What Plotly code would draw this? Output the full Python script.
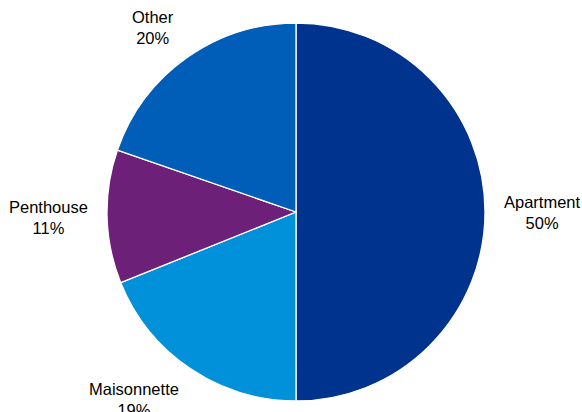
import math
import plotly.graph_objects as go

categories = ["Apartment", "Maisonnette", "Penthouse", "Other"]
values = [50.0, 18.9, 11.4, 19.7]
colors = ["#00338D", "#0091DA", "#6D2077", "#005EB8"]

W, H = 582, 412
cx, cy, r = 296, 212, 189  # pie centre / radius in pixels (from top-left)

fig = go.Figure(go.Pie(
    labels=categories, values=values, sort=False, direction="clockwise",
    rotation=0, textinfo="none", hoverinfo="label+percent",
    marker=dict(colors=colors, line=dict(color="white", width=1.3)),
    domain=dict(x=[(cx - r) / W, (cx + r) / W],
                y=[(H - cy - r) / H, (H - cy + r) / H]),
    showlegend=False,
))

total = sum(values)
cum = 0
gap_x, gap_y = 17, 11
for lab, v in zip(categories, values):
    mid = (cum + v / 2) / total * 2 * math.pi
    cum += v
    s, c = math.sin(mid), math.cos(mid)
    px = cx + (r + gap_x) * s
    py = cy - (r + gap_y) * c
    xa = "left" if s > 0.3 else ("right" if s < -0.3 else "center")
    ya = "bottom" if c > 0.3 else ("top" if c < -0.3 else "middle")
    pct = round(v / total * 100)
    fig.add_annotation(
        x=px / W, y=1 - py / H, xref="paper", yref="paper",
        xanchor=xa, yanchor=ya, showarrow=False, align="center",
        text=f"{lab}<br>{pct}%",
        font=dict(family="Liberation Sans, Arial", size=16.5, color="#000000"),
    )

fig.update_layout(
    width=W, height=H, margin=dict(l=0, r=0, t=0, b=0),
    paper_bgcolor="white", plot_bgcolor="white",
)
fig.write_html("out.html", config={"displayModeBar": False},
               post_script="document.body.style.margin='0';")
